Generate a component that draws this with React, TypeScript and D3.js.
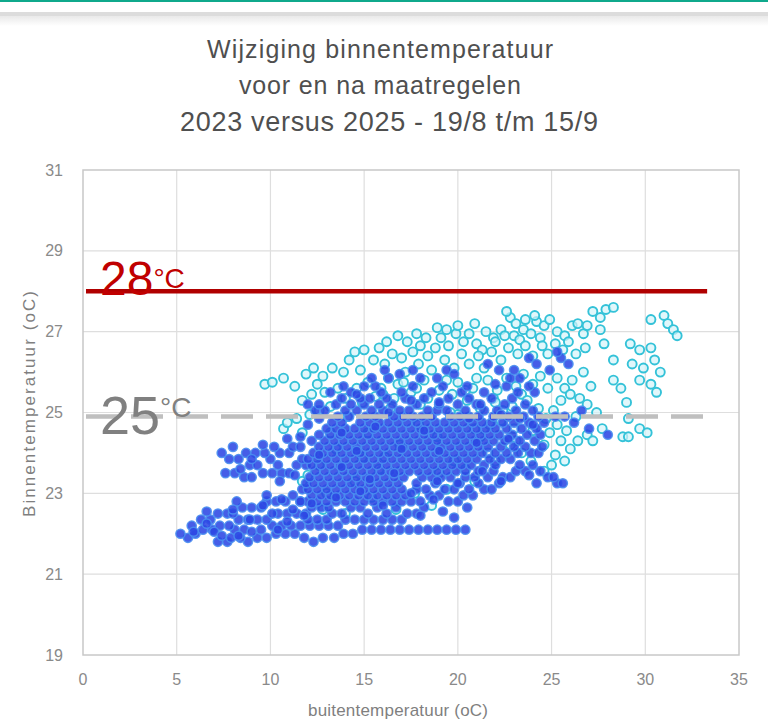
import * as d3 from 'd3';
import * as React from 'react';

const titleLines = ['Wijziging binnentemperatuur', 'voor en na maatregelen', '2023 versus 2025 - 19/8 t/m 15/9'];
const xTicks = [0, 5, 10, 15, 20, 25, 30, 35];
const yTicks = [19, 21, 23, 25, 27, 29, 31];
const xLabel = 'buitentemperatuur (oC)';
const yLabel = 'Binnentemperatuur (oC)';

// comfort limits drawn over the cloud
const limitHigh = 28;
const limitLow = 24.9;
const limitEnd = 33.3;

// 2023, voor maatregelen: [buiten, binnen]
const points2023: [number, number][] = [
    [9.7, 25.7], [10.1, 25.75], [10.7, 25.85], [11.3, 25.65], [11.9, 25.95], [12.3, 26.1], [12.8, 25.9],
    [13.3, 26.1], [13.9, 26.0], [14.2, 26.3], [14.8, 26.05], [15.5, 26.3], [16.1, 26.2], [16.5, 26.45],
    [17.0, 26.35], [17.3, 26.75], [17.6, 26.5], [18.0, 26.65], [18.4, 26.4], [18.8, 26.6], [19.1, 26.85],
    [19.5, 26.65], [19.9, 26.95], [20.3, 26.75], [20.6, 26.95], [21.0, 26.7], [21.5, 27.0], [21.9, 26.85],
    [22.3, 27.05], [22.8, 27.35], [23.1, 27.2], [23.5, 27.05], [23.0, 26.9], [24.2, 27.25], [24.6, 27.15],
    [24.9, 27.3],
    [14.5, 26.5], [15.0, 26.55], [15.8, 26.6], [16.2, 26.75], [16.8, 26.9], [17.8, 26.95], [18.3, 26.85],
    [18.9, 27.1], [19.4, 27.05], [20.0, 27.15], [20.9, 27.2], [21.3, 26.55], [22.0, 26.75], [22.5, 26.9],
    [23.3, 26.8], [23.9, 26.95], [24.4, 26.85], [24.1, 27.4], [23.6, 27.3], [22.6, 27.5], [25.3, 27.0],
    [25.7, 26.9], [26.3, 26.45], [26.8, 26.6],
    [10.7, 24.6], [10.9, 24.75], [11.4, 24.85], [11.7, 24.5], [12.1, 24.95], [12.6, 25.05], [13.2, 25.15],
    [11.7, 23.3], [12.0, 23.45], [12.6, 23.7], [13.5, 24.1],
    [14.6, 25.6], [15.2, 25.75], [15.9, 25.6], [16.3, 25.85], [16.8, 25.7], [17.2, 26.0], [17.9, 26.2],
    [18.2, 25.8], [18.6, 26.05], [19.3, 26.3], [19.8, 26.1], [20.2, 26.45], [20.6, 26.2], [21.1, 26.4],
    [21.4, 26.1], [21.8, 26.5], [22.3, 26.3], [22.7, 26.6], [23.2, 26.45], [23.6, 26.65], [24.0, 26.4],
    [24.5, 26.65], [24.8, 26.45], [25.2, 26.7], [25.6, 26.55], [25.9, 26.75], [16.0, 25.45], [17.5, 25.5],
    [19.0, 25.55], [20.0, 25.75], [20.8, 25.6], [21.6, 25.8], [22.1, 25.55], [22.6, 25.85], [23.1, 25.65],
    [23.5, 25.95], [24.0, 25.7], [24.4, 25.9], [24.8, 25.6], [25.3, 25.85], [25.7, 25.6], [26.1, 25.8],
    [25.5, 25.3], [26.0, 25.45],
    [13.6, 25.6], [14.0, 25.35], [14.9, 25.25], [15.6, 25.4], [16.6, 25.35], [17.1, 25.75], [17.8, 25.6],
    [18.4, 25.35], [19.4, 25.8], [19.7, 25.45], [20.4, 25.55], [21.0, 25.85], [21.9, 25.35], [22.4, 25.05],
    [23.4, 25.45], [12.9, 25.5], [12.5, 25.7], [11.7, 25.3], [12.2, 25.45],
    [20.5, 25.3], [21.2, 25.1], [22.0, 25.25], [22.9, 25.15], [23.7, 25.3], [24.3, 25.1], [24.7, 24.85],
    [25.1, 25.05], [24.9, 24.5], [25.5, 24.3], [26.0, 24.1], [25.2, 23.95], [25.8, 24.55], [26.9, 24.45],
    [27.2, 24.3], [20.4, 23.6], [23.4, 24.0], [23.9, 23.8],
    [20.0, 24.95], [21.7, 24.7], [23.0, 24.6], [24.0, 24.55], [24.6, 24.2], [25.3, 24.7], [26.3, 24.9],
    [26.5, 25.35], [27.4, 25.0], [27.7, 24.6], [26.4, 24.3], [25.7, 23.8], [25.0, 23.7], [24.6, 23.55],
    [26.1, 27.15], [26.4, 27.2], [26.7, 26.95], [26.9, 27.15], [27.2, 27.5], [27.6, 27.35], [27.9, 27.55],
    [28.3, 27.6], [27.6, 27.05], [27.8, 26.7], [26.7, 26.0], [27.1, 25.65], [26.9, 25.2], [28.3, 26.3],
    [28.3, 25.8], [28.7, 25.6], [29.0, 25.25], [29.1, 24.85], [28.8, 24.4], [29.1, 24.4], [29.7, 24.6],
    [30.1, 24.5], [29.2, 26.7], [29.7, 26.55], [30.3, 26.6], [29.3, 26.2], [29.9, 26.1], [30.5, 26.3],
    [30.8, 26.0], [29.7, 25.8], [30.3, 25.7], [30.6, 25.5], [30.3, 27.3], [31.0, 27.4], [31.2, 27.2],
    [31.5, 27.05], [31.7, 26.9],
    [13.0, 23.0], [14.5, 23.3], [15.8, 23.6], [16.9, 24.2], [17.7, 23.0], [18.9, 24.4], [19.8, 23.8],
    [20.9, 24.6], [21.6, 24.0], [22.3, 24.8], [15.2, 24.5], [14.1, 24.9], [16.4, 25.1], [18.0, 25.2],
    [19.6, 25.0], [23.1, 24.3], [12.8, 22.6], [14.0, 22.5], [15.4, 22.9], [16.7, 22.6], [18.6, 22.7],
    [19.4, 23.1], [20.9, 23.3], [22.0, 23.8], [22.8, 24.2], [17.9, 24.7], [16.1, 23.9], [14.9, 23.9],
    [13.2, 24.5], [19.0, 23.5], [21.2, 24.4],
];

// 2025, na maatregelen: rows of [binnen, buiten values]
const rows2025: [number, number[]][] = [
    [21.8, [7.2, 7.7, 8.8, 12.3]],
    [21.9, [5.6, 7.9, 8.4, 9.3, 9.8, 11.8, 12.8, 13.4]],
    [22.0, [5.2, 6.0, 10.3, 10.8, 11.3, 13.9, 14.4]],
    [22.1, [6.4, 6.9, 8.1, 8.6, 9.5, 14.9, 15.4, 15.9, 16.4, 16.9, 17.4, 17.9, 18.4, 18.9, 19.4, 19.9, 20.4]],
    [22.2, [5.8, 7.3, 7.8, 10.1, 10.6, 11.1, 11.6, 12.1, 12.6, 13.1, 13.6]],
    [22.35, [6.3, 6.8, 8.3, 8.8, 9.3, 9.8, 12.0, 12.5, 13.0, 14.0, 14.5, 15.0, 15.5, 16.0, 16.5, 17.0]],
    [22.5, [7.2, 7.7, 8.0, 10.4, 10.9, 11.4, 11.9, 13.3, 13.8, 15.2, 16.2, 17.3, 17.8]],
    [22.65, [8.5, 9.0, 9.5, 12.2, 12.7, 13.1, 14.3, 14.8, 15.7, 16.7, 18.2]],
    [22.8, [9.8, 10.3, 10.8, 11.6, 12.0, 12.5, 13.0, 13.5, 14.0, 14.5, 15.0, 15.5, 16.0, 16.5, 17.0, 17.5, 18.0, 19.5, 20.0]],
    [22.95, [11.2, 12.2, 12.7, 13.2, 13.7, 14.2, 14.7, 15.2, 15.7, 16.2, 16.7, 17.2, 18.5, 19.0, 20.3, 20.8]],
    [23.1, [11.7, 12.0, 12.5, 13.0, 13.5, 14.0, 14.5, 15.0, 15.5, 16.0, 16.5, 17.0, 17.8, 18.3, 19.3, 19.8, 20.6, 21.4, 21.8]],
    [23.25, [11.9, 12.3, 12.8, 13.3, 13.8, 14.3, 14.8, 15.3, 15.8, 16.3, 16.8, 17.8, 18.8, 20.1, 21.1, 22.2, 25.3, 25.6]],
    [23.4, [8.6, 9.0, 12.1, 12.6, 13.1, 13.6, 14.1, 14.6, 15.1, 15.6, 16.1, 16.6, 17.1, 18.1, 18.6, 19.1, 19.6, 20.4, 20.9, 21.6, 22.4, 22.8, 24.8, 25.1]],
    [23.5, [7.6, 8.1, 9.6, 10.1, 10.6, 11.0]],
    [23.55, [12.4, 12.9, 13.4, 13.9, 14.4, 14.9, 15.4, 15.9, 16.4, 16.9, 17.4, 17.9, 18.4, 18.9, 19.4, 19.9, 20.4, 21.1, 21.9, 23.1, 23.6, 24.4]],
    [23.7, [8.9, 9.3, 10.4, 11.4, 11.9, 12.2, 12.7, 13.2, 13.7, 14.2, 14.7, 15.2, 15.7, 16.2, 16.7, 17.2, 17.7, 18.2, 18.7, 19.2, 19.7, 20.2, 20.7, 21.4, 22.0, 23.3, 24.0]],
    [23.85, [7.8, 8.3, 10.0, 11.7, 12.0, 12.5, 13.0, 13.5, 14.0, 14.5, 15.0, 15.5, 16.0, 16.5, 17.0, 17.5, 18.0, 18.5, 19.0, 19.5, 20.0, 20.5, 21.0, 21.7, 22.3, 22.8]],
    [24.0, [7.4, 8.7, 9.2, 9.7, 10.5, 11.0, 12.3, 12.8, 13.3, 13.8, 14.3, 14.8, 15.3, 15.8, 16.3, 16.8, 17.3, 17.8, 18.3, 18.8, 19.3, 19.8, 20.3, 20.8, 21.3, 22.0, 22.6, 23.2, 23.9, 24.3]],
    [24.15, [8.0, 10.2, 11.2, 11.6, 12.6, 13.1, 13.6, 14.1, 14.6, 15.1, 15.6, 16.1, 16.6, 17.1, 17.6, 18.1, 18.6, 19.1, 19.6, 20.1, 20.6, 21.1, 21.6, 22.3, 23.0, 23.6, 24.5]],
    [24.3, [12.2, 12.9, 13.4, 13.9, 14.4, 14.9, 15.4, 15.9, 16.4, 16.9, 17.4, 17.9, 18.4, 18.9, 19.4, 19.9, 20.4, 20.9, 21.4, 21.9, 22.5, 23.3, 24.1]],
    [24.45, [12.6, 13.2, 13.7, 14.2, 14.7, 15.2, 15.7, 16.2, 16.7, 17.2, 17.7, 18.2, 18.7, 19.2, 19.7, 20.2, 20.7, 21.2, 21.7, 22.2, 22.9, 23.7, 24.4, 28.0]],
    [24.6, [13.0, 13.5, 14.0, 14.5, 15.0, 15.5, 16.0, 16.5, 17.0, 17.5, 18.0, 18.5, 19.0, 19.5, 20.0, 20.5, 21.0, 21.5, 22.0, 22.6, 23.4, 24.2, 27.0]],
    [24.75, [13.3, 13.8, 14.8, 15.3, 15.8, 16.3, 16.8, 17.3, 17.8, 18.3, 18.8, 19.3, 19.8, 20.3, 20.8, 21.3, 21.8, 22.4, 23.0, 23.8, 24.6, 26.2]],
    [24.9, [13.6, 14.2, 15.1, 15.6, 16.6, 17.1, 17.6, 18.1, 18.6, 19.6, 20.1, 20.6, 21.1, 21.9, 22.7, 23.5, 24.3, 25.2, 25.7]],
    [25.05, [12.4, 12.9, 14.0, 14.6, 15.4, 16.0, 16.9, 17.4, 18.4, 18.9, 19.4, 20.4, 21.4, 22.1, 23.1, 24.0, 26.6]],
    [25.2, [12.0, 12.6, 13.5, 14.3, 15.0, 15.8, 16.5, 17.8, 19.0, 20.0, 21.0, 22.5, 23.6]],
    [25.35, [13.8, 14.8, 15.3, 16.2, 17.2, 18.2, 19.5, 20.6, 21.8, 22.9]],
    [25.5, [14.3, 15.9, 17.0, 18.6, 20.2, 21.4, 23.2, 24.1]],
    [25.65, [13.9, 15.0, 15.6, 17.6, 19.2, 22.6, 23.8]],
    [25.85, [15.4, 16.3, 18.0, 18.9, 22.8, 23.3]],
    [26.05, [16.1, 17.6, 19.4, 22.2, 23.0, 24.9]],
    [26.2, [21.6, 24.2, 25.9]],
    [26.35, [23.8, 25.5]],
    [26.5, [25.3]],
];

// 2025 points that fall between the rows: [buiten, binnen]
const extra2025: [number, number][] = [
    [12.2, 22.75], [13.5, 22.9], [14.8, 23.05], [16.0, 22.7], [17.5, 23.0], [18.7, 22.85], [19.2, 22.55],
    [18.0, 22.45], [19.8, 22.4], [20.5, 22.65], [15.3, 23.35], [16.6, 23.5], [13.8, 23.65], [18.9, 23.3],
    [20.0, 23.25], [21.3, 23.55], [22.3, 23.3], [23.8, 23.45], [24.2, 23.25], [12.6, 23.95], [14.6, 24.05],
    [17.0, 24.1], [19.0, 24.05], [21.0, 24.25], [22.7, 24.35], [24.0, 24.7], [13.8, 24.5], [15.6, 24.65],
    [18.2, 24.55], [20.6, 24.85], [22.3, 24.95], [23.3, 24.85], [16.3, 25.0], [19.0, 25.25], [21.2, 25.2],
    [14.6, 25.45], [17.5, 25.3], [20.5, 25.65], [22.0, 25.7], [16.9, 25.95], [19.8, 25.95], [13.2, 25.5],
    [12.0, 24.7], [12.6, 24.85], [11.6, 24.4], [10.9, 24.35], [9.6, 24.2], [9.0, 23.85], [8.4, 23.6],
    [10.5, 23.3], [11.3, 23.45], [9.8, 22.95], [10.9, 22.3], [9.0, 22.05], [7.0, 22.05], [11.8, 22.45],
    [6.6, 22.55], [8.2, 22.8],
    [5.9, 22.05], [6.6, 22.25], [7.4, 21.95], [8.0, 22.6], [8.9, 22.35], [9.6, 22.7], [10.4, 22.1],
    [10.6, 22.85], [11.2, 22.6], [11.6, 22.8], [10.1, 22.5], [8.3, 21.95],
];

const width = 768;
const height = 722;
const plot = { left: 83, right: 739, top: 170, bottom: 655 };
const font = '"Liberation Sans", Arial, sans-serif';

export default function App() {
    const x = d3.scaleLinear().domain([0, 35]).range([plot.left, plot.right]);
    const y = d3.scaleLinear().domain([19, 31]).range([plot.bottom, plot.top]);
    const points2025 = rows2025
        .flatMap(([binnen, xs]) => xs.map(buiten => [buiten, binnen] as [number, number]))
        .concat(extra2025);

    return (
        <div style={{ position: 'absolute', left: 0, top: 0, width, height, background: '#fff' }}>
            <svg width={width} height={height} style={{ display: 'block' }}>
                <defs>
                    <linearGradient id="shade" x1="0" x2="0" y1="0" y2="1">
                        <stop offset="0" stopColor="#e9e9e9" />
                        <stop offset="1" stopColor="#ffffff" />
                    </linearGradient>
                </defs>
                <rect x={0} y={0} width={width} height={2} fill="#0fa98c" />
                <rect x={0} y={12} width={width} height={4} fill="#dcdcdc" />
                <rect x={0} y={16} width={width} height={10} fill="url(#shade)" />

                <g fill="#4f4f4f" fontFamily={font} textAnchor="middle">
                    <text x={380} y={58} fontSize={25} textLength={346}>{titleLines[0]}</text>
                    <text x={380} y={94} fontSize={25} textLength={282}>{titleLines[1]}</text>
                    <text x={389} y={131} fontSize={27} textLength={418}>{titleLines[2]}</text>
                </g>

                <g stroke="#dedede" strokeWidth={1.2}>
                    {xTicks.slice(1, -1).map(t => (
                        <line key={t} x1={x(t)} x2={x(t)} y1={plot.top} y2={plot.bottom} />
                    ))}
                    {yTicks.slice(1, -1).map(t => (
                        <line key={t} x1={plot.left} x2={plot.right} y1={y(t)} y2={y(t)} />
                    ))}
                </g>
                <rect x={plot.left} y={plot.top} width={plot.right - plot.left} height={plot.bottom - plot.top}
                    fill="none" stroke="#c8c8c8" strokeWidth={1.5} />

                <g fill="#8a8a8a" fontFamily={font} fontSize={16}>
                    {yTicks.map(t => (
                        <text key={t} x={63} y={y(t)} dy="0.35em" textAnchor="end">{t}</text>
                    ))}
                    {xTicks.map(t => (
                        <text key={t} x={x(t)} y={685} textAnchor="middle">{t}</text>
                    ))}
                </g>
                <g fill="#7f7f7f" fontFamily={font} fontSize={17} textAnchor="middle">
                    <text x={398} y={716} textLength={180}>{xLabel}</text>
                    <text transform={`translate(35,404) rotate(-90)`} textLength={226}>{yLabel}</text>
                </g>

                <g fill="#d4f4f9" fillOpacity={0.7} stroke="#34c2d8" strokeWidth={1.9}>
                    {points2023.map(([bx, by], i) => (
                        <circle key={i} cx={x(bx)} cy={y(by)} r={4.5} />
                    ))}
                </g>
                <g fill="#2c47e4" fillOpacity={0.88} stroke="#4a8ef0" strokeOpacity={0.9} strokeWidth={1.5}>
                    {points2025.map(([bx, by], i) => (
                        <circle key={i} cx={x(bx)} cy={y(by)} r={4.6} />
                    ))}
                </g>

                <line x1={x(0) + 3} x2={x(limitEnd)} y1={y(limitLow)} y2={y(limitLow)}
                    stroke="#bfbfbf" strokeWidth={4.5} strokeDasharray="32 13" />
                <line x1={x(0) + 3} x2={x(limitEnd)} y1={y(limitHigh)} y2={y(limitHigh)}
                    stroke="#b00000" strokeWidth={4.5} />

                <text x={100} y={295} fontFamily={font} fill="#c00000">
                    <tspan fontSize={48}>28</tspan>
                    <tspan fontSize={28} dy={-7}>°C</tspan>
                </text>
                <text x={100} y={434} fontFamily={font} fill="#808080">
                    <tspan fontSize={54}>25</tspan>
                    <tspan fontSize={28} dy={-17}>°C</tspan>
                </text>
            </svg>
        </div>
    );
}
